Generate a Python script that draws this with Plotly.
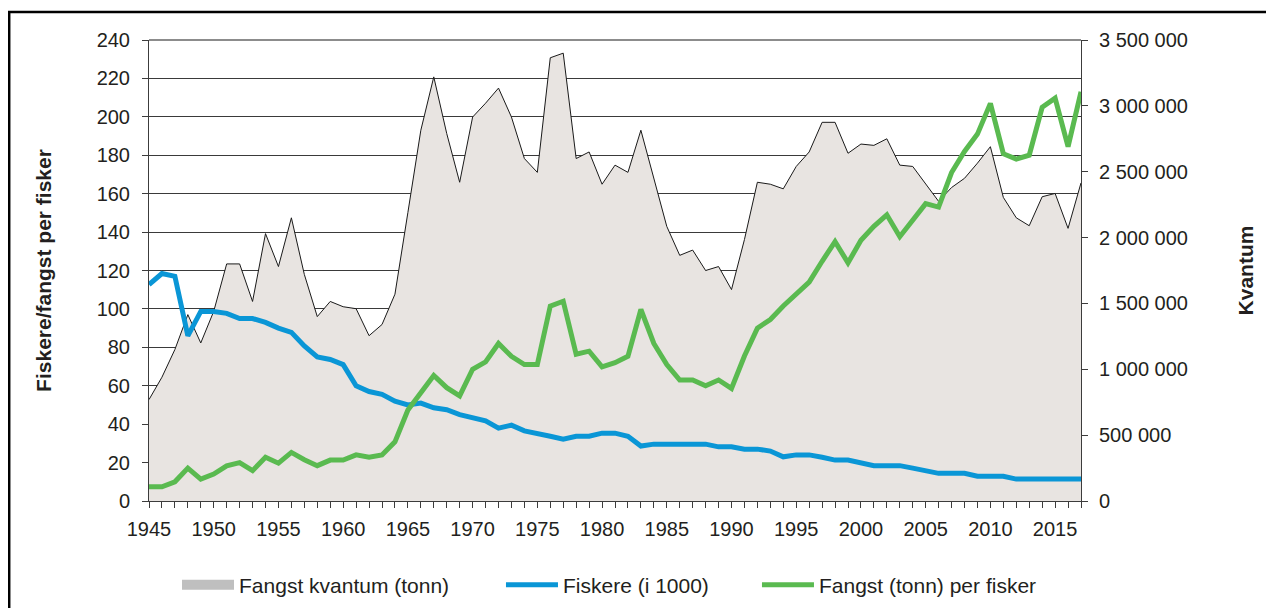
import plotly.graph_objects as go

years = list(range(1945, 2018))

# Fangst kvantum (tonn) - right axis
kvantum = [
    770000, 940000, 1150000, 1415000, 1200000, 1440000, 1800000, 1800000, 1515000, 2030000,   # 1945-1954
    1780000, 2150000, 1720000, 1400000, 1515000, 1475000, 1460000, 1255000, 1340000, 1570000,  # 1955-1964
    2190000, 2815000, 3220000, 2790000, 2420000, 2915000, 3020000, 3135000, 2915000, 2600000,  # 1965-1974
    2495000, 3365000, 3400000, 2600000, 2650000, 2405000, 2550000, 2495000, 2815000, 2440000,  # 1975-1984
    2085000, 1865000, 1905000, 1750000, 1780000, 1605000, 1985000, 2420000, 2405000, 2370000,  # 1985-1994
    2540000, 2650000, 2875000, 2875000, 2640000, 2710000, 2700000, 2750000, 2550000, 2540000,  # 1995-2004
    2405000, 2275000, 2380000, 2450000, 2565000, 2690000, 2305000, 2150000, 2090000, 2310000,  # 2005-2014
    2335000, 2070000, 2415000,                                                                 # 2015-2017
]

# Fiskere (i 1000) - left axis
fiskere = [
    112.7, 118.4, 117.0, 86.0, 98.7, 98.7, 97.7, 95.0, 95.0, 93.0,      # 1945-1954
    90.0, 87.8, 80.7, 75.0, 73.7, 71.0, 60.0, 57.0, 55.5, 52.0,         # 1955-1964
    50.0, 51.0, 48.5, 47.5, 45.0, 43.5, 41.7, 37.9, 39.5, 36.5,         # 1965-1974
    35.3, 33.7, 32.2, 33.7, 33.7, 35.3, 35.3, 33.7, 28.6, 29.6,         # 1975-1984
    29.6, 29.6, 29.6, 29.6, 28.2, 28.2, 27.0, 27.0, 26.0, 23.0,         # 1985-1994
    24.0, 24.0, 22.8, 21.3, 21.3, 19.9, 18.4, 18.4, 18.4, 17.1,         # 1995-2004
    15.6, 14.4, 14.4, 14.4, 12.9, 12.9, 12.9, 11.4, 11.4, 11.4,         # 2005-2014
    11.4, 11.4, 11.4,                                                   # 2015-2017
]

# Fangst (tonn) per fisker - left axis
per_fisker = [
    7.4, 7.4, 10.0, 17.1, 11.4, 14.0, 18.3, 20.0, 15.8, 22.8,           # 1945-1954
    19.7, 25.3, 21.5, 18.4, 21.3, 21.3, 24.0, 22.8, 24.0, 30.8,         # 1955-1964
    47.4, 56.5, 65.4, 59.0, 54.7, 68.6, 72.4, 82.0, 75.3, 71.0,         # 1965-1974
    71.0, 101.5, 104.0, 76.4, 78.0, 69.8, 72.0, 75.3, 99.7, 82.0,       # 1975-1984
    71.0, 63.0, 63.0, 60.0, 63.0, 58.6, 75.5, 90.0, 94.5, 101.5,        # 1985-1994
    107.5, 114.0, 124.8, 135.0, 124.0, 135.7, 143.0, 149.0, 137.6, 146.0,  # 1995-2004
    154.8, 153.0, 171.0, 182.0, 191.0, 207.0, 180.8, 178.0, 180.0, 205.0,  # 2005-2014
    209.7, 184.5, 213.0,                                                # 2015-2017
]

left_ticks = list(range(0, 241, 20))
right_ticks = list(range(0, 3500001, 500000))

TXT = "#231f20"
FONT = "Liberation Sans, Arial, sans-serif"
FILL = "#e8e4e1"
BLUE = "#0a96d6"
GREEN = "#5aba50"

fig = go.Figure()

# Area on primary y (right side) so the lines (overlay axis) draw above it
fig.add_trace(go.Scatter(
    x=years, y=kvantum, mode="lines", fill="tozeroy",
    fillcolor=FILL, line=dict(color="#1a1a1a", width=1),
    yaxis="y", showlegend=False, name="Fangst kvantum (tonn)",
))
# legend entry for the area (grey block as in the original)
fig.add_trace(go.Scatter(
    x=[None], y=[None], mode="lines",
    line=dict(color="#bfbfbf", width=10),
    name="Fangst kvantum (tonn)", yaxis="y", legend="legend",
    hoverinfo="skip",
))
fig.add_trace(go.Scatter(
    x=years, y=fiskere, mode="lines", line=dict(color=BLUE, width=5),
    name="Fiskere (i 1000)", yaxis="y2", legend="legend2",
))
fig.add_trace(go.Scatter(
    x=years, y=per_fisker, mode="lines", line=dict(color=GREEN, width=5),
    name="Fangst (tonn) per fisker", yaxis="y2", legend="legend3",
))

axis_common = dict(
    showline=True, linecolor="#3c3c3c", linewidth=1,
    ticks="outside", ticklen=6, tickcolor="#3c3c3c", tickwidth=1,
    tickfont=dict(family=FONT, size=20, color=TXT),
    zeroline=False, automargin=False,
)

legend_common = dict(
    orientation="h", yanchor="middle", xanchor="left",
    xref="container", yref="container",
    font=dict(family=FONT, size=21, color=TXT),
    bgcolor="rgba(0,0,0,0)", borderwidth=0, itemwidth=52,
)

LEG_Y = 0.0383

# page body adds an 8px offset, so the figure is 8px smaller than the window
fig.update_layout(
    width=1266, height=600,
    margin=dict(l=141, r=193, t=32, b=107),
    paper_bgcolor="white", plot_bgcolor="white",
    separators=", ",
    xaxis=dict(
        range=[1945, 2017], tickmode="linear", tick0=1945, dtick=5,
        minor=dict(dtick=1, ticks="outside", ticklen=6, tickcolor="#3c3c3c"),
        showgrid=False, ticklabelstandoff=4, **axis_common,
    ),
    yaxis=dict(
        side="right", range=[0, 3500000], tickvals=right_ticks, tickformat=",d",
        showgrid=False, ticklabelstandoff=7,
        title=dict(text="<b>Kvantum</b>", font=dict(family=FONT, size=21, color=TXT), standoff=51),
        **axis_common,
    ),
    yaxis2=dict(
        side="left", overlaying="y", range=[0, 240], tickvals=left_ticks,
        showgrid=True, gridcolor="#3a3a3a", gridwidth=1, ticklabelstandoff=8,
        title=dict(text="<b>Fiskere/fangst per fisker</b>", font=dict(family=FONT, size=21, color=TXT), standoff=39),
        **axis_common,
    ),
    legend=dict(x=0.1335, y=LEG_Y, **legend_common),
    legend2=dict(x=0.3894, y=LEG_Y, **legend_common),
    legend3=dict(x=0.5916, y=LEG_Y, **legend_common),
    shapes=[
        # top grid line (lighter)
        dict(type="line", xref="paper", yref="paper", x0=0, x1=1, y0=1, y1=1,
             line=dict(color="#8c8c8c", width=2), layer="below"),
        # outer frame
        dict(type="rect", xref="paper", yref="paper", x0=-0.150, x1=1.25, y0=-0.30, y1=1.0607,
             line=dict(color="black", width=2.5), fillcolor="rgba(0,0,0,0)", layer="above"),
    ],
)

fig.write_html("out.html")
